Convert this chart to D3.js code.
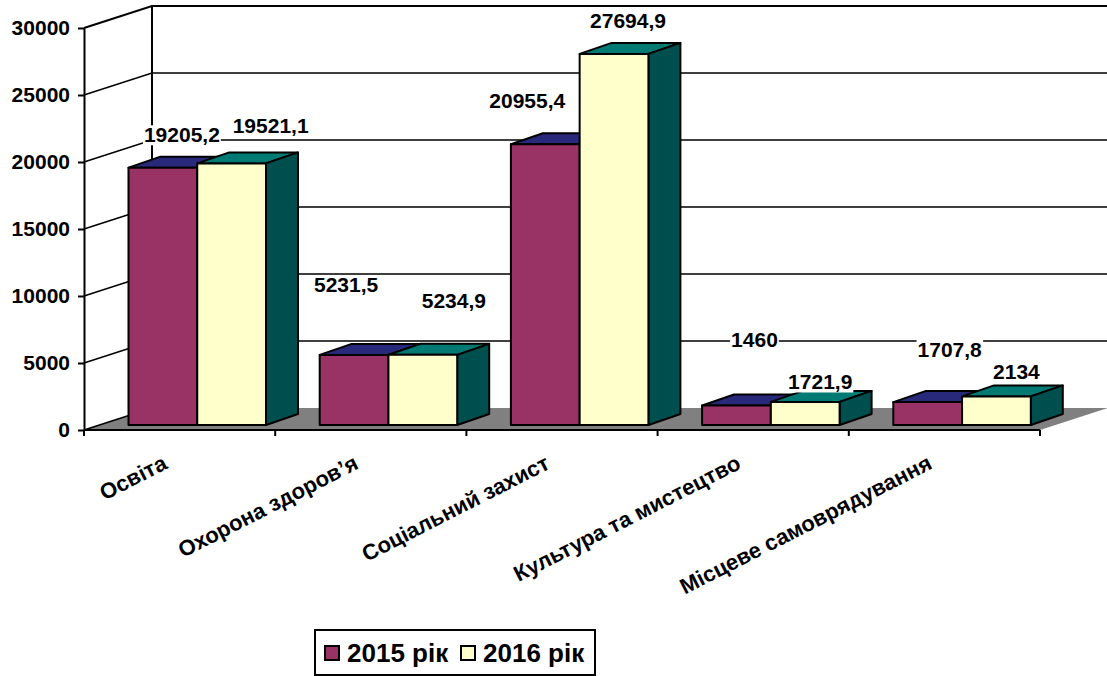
<!DOCTYPE html>
<html>
<head>
<meta charset="utf-8">
<script src="https://cdn.jsdelivr.net/npm/d3@7"></script>
<style>
  html, body { margin: 0; padding: 0; background: #fff; }
  svg { display: block; }
  text { font-family: "Liberation Sans", Arial, sans-serif; font-weight: bold; fill: #000; }
</style>
</head>
<body>
<div id="chart"></div>
<script>
const categories = ['Освіта', 'Охорона здоров’я', 'Соціальний захист', 'Культура та мистецтво', 'Місцеве самоврядування']
const seriesNames = ['2015 рік', '2016 рік']
const values2015 = [19205.2, 5231.5, 20955.4, 1460, 1707.8]
const values2016 = [19521.1, 5234.9, 27694.9, 1721.9, 2134]
const labels2015 = ['19205,2', '5231,5', '20955,4', '1460', '1707,8']
const labels2016 = ['19521,1', '5234,9', '27694,9', '1721,9', '2134']
const yTicks = [0, 5000, 10000, 15000, 20000, 25000, 30000]

// hand placed data labels, same as in the original chart (dx, dy from the top of the bar)
const labelShift2015 = [[19, -33], [-8, -70], [-18, -44], [18, -66], [22, -53]]
const labelShift2016 = [[39, -38], [31, -54], [14, -33], [15, -20], [20, -25]]

const SERIES_STYLE = [
  { front: '#993366', top: '#29297c', side: '#5c1f3d' },
  { front: '#ffffcc', top: '#007a72', side: '#004f4f' },
]

const width = 1107, height = 676
const FONT = 21
const WALL_DX = 68, WALL_DY = -22     // front axis to back wall
const BAR_DX = 32, BAR_DY = -11       // depth of a bar
const BAR_LIFT = -5                   // bar front face sits a bit behind the axis plane

const x = d3.scaleBand().domain(categories).range([84, 1040])
const xs = d3.scaleBand().domain(seriesNames).range([44.5, 182])
const y = d3.scaleLinear().domain([0, 30000]).range([430, 28])

const svg = d3.select('#chart').append('svg').attr('width', width).attr('height', height)

// floor
const floorPts = [[84, y(0)], [1040, y(0)], [1040 + WALL_DX, y(0) + WALL_DY], [84 + WALL_DX, y(0) + WALL_DY]]
svg.append('polygon').attr('points', floorPts.join(' ')).attr('fill', '#808080')

// grid on the side and back walls
const grid = svg.append('g').attr('stroke', '#000').attr('fill', 'none')
grid.selectAll('path').data(yTicks.filter(d => d > 0)).enter().append('path')
  .attr('stroke-width', d => d === 30000 ? 2 : 1.6)
  .attr('d', d => `M84,${y(d)}L${84 + WALL_DX},${y(d) + WALL_DY}H${1040 + WALL_DX}`)
grid.append('path')
  .attr('stroke-width', 1.6)
  .attr('d', `M84,${y(0)}L${84 + WALL_DX},${y(0) + WALL_DY}`)
grid.append('line')
  .attr('stroke-width', 2)
  .attr('x1', 84 + WALL_DX).attr('x2', 84 + WALL_DX)
  .attr('y1', y(30000) + WALL_DY).attr('y2', y(0) + WALL_DY)

// axes
const yAxis = svg.append('g').attr('transform', 'translate(84,0)')
  .call(d3.axisLeft(y).tickValues(yTicks).tickSize(6).tickSizeOuter(0).tickPadding(8).tickFormat(d3.format('d')))
yAxis.selectAll('path,line').attr('stroke', '#000').attr('stroke-width', 2)
yAxis.selectAll('text').attr('font-size', FONT).style('font-family', null)
yAxis.attr('font-family', null)

svg.append('line').attr('x1', 84).attr('x2', 1040).attr('y1', y(0)).attr('y2', y(0))
  .attr('stroke', '#000').attr('stroke-width', 2)
const xEdges = categories.map(c => x(c)).concat([1040])
svg.selectAll('.xtick').data(xEdges).enter().append('line').attr('class', 'xtick')
  .attr('x1', d => d).attr('x2', d => d)
  .attr('y1', y(0)).attr('y2', y(0) + 6)
  .attr('stroke', '#000').attr('stroke-width', 2)

svg.selectAll('.xlabel').data(categories).enter().append('text').attr('class', 'xlabel')
  .attr('font-size', 22).attr('text-anchor', 'end')
  .attr('transform', d => `translate(${x(d) + x.bandwidth() / 2 - 11},${y(0) + 38}) rotate(-27)`)
  .text(d => d)

// bars
const seriesValues = [values2015, values2016]
const barRows = []
categories.forEach((c, i) => {
  seriesNames.forEach((s, j) => {
    barRows.push({ c, s, j, value: seriesValues[j][i] })
  })
})

const bar = svg.append('g').selectAll('g').data(barRows).enter().append('g')
  .attr('stroke', '#000').attr('stroke-width', 2).attr('stroke-linejoin', 'round')

const bx = d => x(d.c) + xs(d.s)
const bw = xs.bandwidth()
const by0 = y(0) + BAR_LIFT
const by1 = d => y(d.value) + BAR_LIFT

bar.append('path').attr('fill', d => SERIES_STYLE[d.j].top)
  .attr('d', d => `M${bx(d)},${by1(d)}l${BAR_DX},${BAR_DY}h${bw}l${-BAR_DX},${-BAR_DY}Z`)
bar.append('path').attr('fill', d => SERIES_STYLE[d.j].side)
  .attr('d', d => `M${bx(d) + bw},${by1(d)}l${BAR_DX},${BAR_DY}V${by0 + BAR_DY}L${bx(d) + bw},${by0}Z`)
bar.append('rect').attr('fill', d => SERIES_STYLE[d.j].front)
  .attr('x', bx).attr('y', by1).attr('width', bw).attr('height', d => by0 - by1(d))

// data labels, white box hides the grid behind them
const labelRows = []
categories.forEach((c, i) => {
  labelRows.push({ c, s: seriesNames[0], value: values2015[i], text: labels2015[i], shift: labelShift2015[i] })
  labelRows.push({ c, s: seriesNames[1], value: values2016[i], text: labels2016[i], shift: labelShift2016[i] })
})
const label = svg.append('g').selectAll('g').data(labelRows).enter().append('g')
  .attr('transform', d => `translate(${bx(d) + bw / 2 + d.shift[0]},${by1(d) + d.shift[1]})`)
label.append('text').attr('font-size', FONT).attr('text-anchor', 'middle').attr('dy', '0.36em').text(d => d.text)
label.each(function () {
  const box = this.querySelector('text').getBBox()
  d3.select(this).insert('rect', 'text').attr('fill', '#fff')
    .attr('x', box.x - 1).attr('y', box.y + 2).attr('width', box.width + 2).attr('height', box.height - 3)
})

// legend
const legend = svg.append('g').attr('transform', 'translate(315,630)')
legend.append('rect').attr('width', 280).attr('height', 45).attr('fill', '#fff').attr('stroke', '#000').attr('stroke-width', 2)
const legendItem = legend.selectAll('g').data(seriesNames).enter().append('g')
  .attr('transform', (d, i) => `translate(${10 + i * 136},16)`)
legendItem.append('rect').attr('width', 14).attr('height', 14)
  .attr('fill', (d, i) => SERIES_STYLE[i].front).attr('stroke', '#000').attr('stroke-width', 2)
legendItem.append('text').attr('x', 22).attr('y', 16).attr('font-size', 26).text(d => d)
</script>
</body>
</html>
